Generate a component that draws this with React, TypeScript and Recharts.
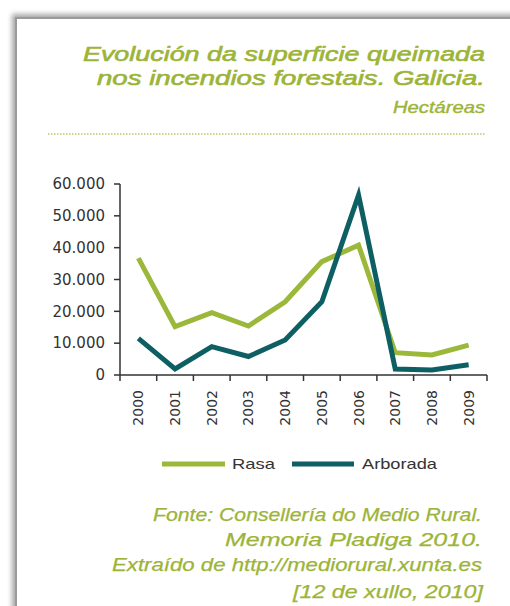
import React from 'react';
import { LineChart, Line, XAxis, YAxis } from 'recharts';

const YEARS = ['2000', '2001', '2002', '2003', '2004', '2005', '2006', '2007', '2008', '2009'];
const RASA = [36700, 15200, 19600, 15400, 23000, 35600, 40800, 7000, 6300, 9400];
const ARBORADA = [11500, 1900, 8900, 5800, 11000, 23000, 56500, 1900, 1600, 3200];
const Y_TICKS = [0, 10000, 20000, 30000, 40000, 50000, 60000];
const SERIES_NAMES = ['Rasa', 'Arborada'];

const data = YEARS.map((y, i) => ({ idx: i, year: y, rasa: RASA[i], arborada: ARBORADA[i] }));

const GREEN = '#9bb83a';
const TEAL = '#0e5f63';
const TEXT_GREEN = '#9cb437';
const AXIS = '#333333';

const CHART_W = 510;
const CHART_H = 440;
const MARGIN = { top: 184, right: 23, left: 60, bottom: 15 };
const PLOT_W = CHART_W - MARGIN.left - 60 - MARGIN.right;
const HALF = PLOT_W / YEARS.length / 2;

const fmt = (v: number) => String(v).replace(/\B(?=(\d{3})+(?!\d))/g, '.');

const XTick = (props: any) => {
  const { x, y, payload, index } = props;
  const axisY = y - 15;
  return (
    <g>
      <line x1={x - HALF} y1={axisY} x2={x - HALF} y2={axisY + 6} stroke={AXIS} strokeWidth={1.5} />
      {index === YEARS.length - 1 && (
        <line x1={x + HALF} y1={axisY} x2={x + HALF} y2={axisY + 6} stroke={AXIS} strokeWidth={1.5} />
      )}
      <text
        x={x}
        y={y}
        dy="0.36em"
        transform={`rotate(-90, ${x}, ${y})`}
        textAnchor="end"
        fontFamily="DejaVu Sans"
        fontSize={14}
        fill={AXIS}
      >
        {YEARS[payload.value]}
      </text>
    </g>
  );
};

const stretch = { lengthAdjust: 'spacingAndGlyphs' as const };

export default function App() {
  return (
    <div style={{ position: 'absolute', left: 0, top: 0, width: 510, height: 606, overflow: 'hidden', background: '#fff' }}>
      <div
        style={{
          position: 'absolute',
          left: 15,
          top: 17,
          width: 620,
          height: 720,
          background: '#fff',
          borderLeft: '2px solid #9a9a9a',
          borderTop: '2px solid #9a9a9a',
          boxShadow: '-2px -2px 5px 1px rgba(0,0,0,0.35)',
        }}
      />
      <div style={{ position: 'absolute', left: 0, top: 0 }}>
        <LineChart width={CHART_W} height={CHART_H} data={data} margin={MARGIN}>
          <XAxis
            dataKey="idx"
            type="number"
            domain={[-0.5, 9.5]}
            ticks={[0, 1, 2, 3, 4, 5, 6, 7, 8, 9]}
            interval={0}
            height={50}
            tickLine={false}
            tickSize={6}
            tickMargin={9}
            axisLine={{ stroke: AXIS, strokeWidth: 1.5 }}
            tick={<XTick />}
          />
          <YAxis
            width={60}
            domain={[0, 60000]}
            ticks={Y_TICKS}
            interval={0}
            tickFormatter={fmt}
            tickSize={6}
            tickMargin={9}
            axisLine={{ stroke: AXIS, strokeWidth: 1.5 }}
            tickLine={{ stroke: AXIS, strokeWidth: 1.5 }}
            tick={{ fill: AXIS, fontFamily: 'DejaVu Sans', fontSize: 15 }}
          />
          <Line
            type="linear"
            dataKey="rasa"
            name={SERIES_NAMES[0]}
            stroke={GREEN}
            strokeWidth={5}
            dot={false}
            activeDot={false}
            isAnimationActive={false}
          />
          <Line
            type="linear"
            dataKey="arborada"
            name={SERIES_NAMES[1]}
            stroke={TEAL}
            strokeWidth={5}
            dot={false}
            activeDot={false}
            isAnimationActive={false}
          />
        </LineChart>
      </div>
      <svg width={510} height={606} style={{ position: 'absolute', left: 0, top: 0, pointerEvents: 'none' }}>
        <g fontFamily="Liberation Sans, Arial, sans-serif" fontStyle="italic" fill={TEXT_GREEN} stroke={TEXT_GREEN} strokeWidth={0.6}>
          <text x={83} y={61} fontSize={20} textLength={402} {...stretch}>Evolución da superficie queimada</text>
          <text x={97} y={85} fontSize={20} textLength={388} {...stretch}>nos incendios forestais. Galicia.</text>
          <text x={393} y={113} fontSize={17} textLength={92} strokeWidth={0.4} {...stretch}>Hectáreas</text>
        </g>
        <line x1={48} y1={134} x2={485} y2={134} stroke="#b7ca6c" strokeWidth={1.5} strokeDasharray="1.5 1.5" />
        <g>
          <line x1={162} y1={464} x2={225} y2={464} stroke={GREEN} strokeWidth={5} />
          <text x={232} y={469} fontFamily="Liberation Sans, Arial, sans-serif" fontSize={15} fill={AXIS} textLength={43} {...stretch}>{SERIES_NAMES[0]}</text>
          <line x1={292} y1={464} x2={354} y2={464} stroke={TEAL} strokeWidth={5} />
          <text x={362} y={469} fontFamily="Liberation Sans, Arial, sans-serif" fontSize={15} fill={AXIS} textLength={75} {...stretch}>{SERIES_NAMES[1]}</text>
        </g>
        <g fontFamily="Liberation Sans, Arial, sans-serif" fontStyle="italic" fill={TEXT_GREEN} fontSize={17.5} stroke={TEXT_GREEN} strokeWidth={0.25}>
          <text x={153} y={521} textLength={329} {...stretch}>Fonte: Consellería do Medio Rural.</text>
          <text x={225} y={546} textLength={257} {...stretch}>Memoria Pladiga 2010.</text>
          <text x={112} y={571} textLength={370} {...stretch}>Extraído de http://mediorural.xunta.es</text>
          <text x={293} y={598} textLength={190} {...stretch}>[12 de xullo, 2010]</text>
        </g>
      </svg>
    </div>
  );
}
